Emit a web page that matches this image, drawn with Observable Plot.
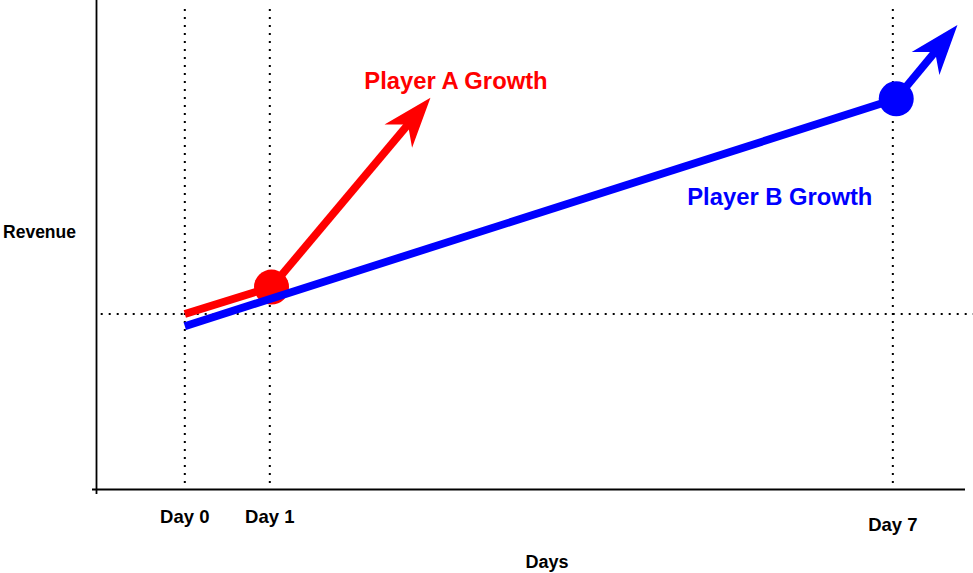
<!DOCTYPE html>
<html><head><meta charset="utf-8">
<script src="https://cdn.jsdelivr.net/npm/d3@7"></script>
<script src="https://cdn.jsdelivr.net/npm/@observablehq/plot@0.6"></script>
<style>body{margin:0;background:#fff;} svg{display:block}</style>
</head><body><div id="chart"></div>
<script>
// ---- data ----
const dayLabels = ["Day 0", "Day 1", "Day 7"];
const dayPositions = [0, 1, 8.33];
const baselineRevenue = 3.59;
const seriesNames = ["Player A Growth", "Player B Growth"];
const playerADays = [0, 1.02];
const playerARevenue = [3.59, 4.14];
const playerBDays = [0, 8.37];
const playerBRevenue = [3.34, 7.99];
const arrowTipDays = [2.89, 9.09];
const arrowTipRevenue = [8.01, 9.50];
const axisLabels = {x: "Days", y: "Revenue"};

// ---- layout ----
const W = 973, H = 573, mL = 96, mR = 0, mT = 0, mB = 84;
const xDomain = [-1.039, 9.279], yDomain = [0, 10];
const colors = ["#ff0000", "#0000ff"];
const xs = d3.scaleLinear(xDomain, [mL, W - mR]);
const ys = d3.scaleLinear(yDomain, [H - mB, mT]);

const seriesDays = [playerADays, playerBDays];
const seriesRevenue = [playerARevenue, playerBRevenue];
const labelPos = [{x: 3.19, y: 8.194}, {x: 7.0, y: 5.822}];

const arrowHead = {
  draw(ctx) {
    ctx.moveTo(0, 0);
    ctx.lineTo(18, 50);
    ctx.lineTo(0, 35);
    ctx.lineTo(-18, 50);
    ctx.closePath();
  }
};

const marks = [];
// dotted reference lines
marks.push(Plot.ruleX(dayPositions, {y1: ys.invert(9), y2: 0, stroke: "black", strokeWidth: 2, strokeDasharray: "2 6"}));
marks.push(Plot.ruleY([baselineRevenue], {x1: xs.invert(100.7), x2: xDomain[1], stroke: "black", strokeWidth: 2, strokeDasharray: "2 6"}));
// axes lines
marks.push(Plot.ruleY([0], {x1: xs.invert(92), x2: xs.invert(965), stroke: "black", strokeWidth: 1.8}));
marks.push(Plot.ruleX([xDomain[0]], {y1: ys.invert(494), y2: yDomain[1], stroke: "black", strokeWidth: 1.8}));

seriesNames.forEach((name, i) => {
  const days = seriesDays[i], rev = seriesRevenue[i];
  const n = days.length - 1;
  const growth = [{x1: days[n], y1: rev[n], x2: arrowTipDays[i], y2: arrowTipRevenue[i]}];
  const dx = xs(growth[0].x2) - xs(growth[0].x1);
  const dy = ys(growth[0].y2) - ys(growth[0].y1);
  const angle = Math.atan2(dx, -dy) * 180 / Math.PI;
  marks.push(Plot.line(days.map((d, j) => ({x: d, y: rev[j]})), {x: "x", y: "y", stroke: colors[i], strokeWidth: 7.8, strokeLinecap: "butt"}));
  marks.push(Plot.arrow(growth, {x1: "x1", y1: "y1", x2: "x2", y2: "y2", stroke: colors[i], strokeWidth: 7.8, headLength: 0, insetEnd: 30, strokeLinecap: "butt"}));
  marks.push(Plot.dot(growth, {x: "x2", y: "y2", symbol: arrowHead, r: 10, fill: colors[i], stroke: "none", rotate: angle}));
  marks.push(Plot.dot(growth, {x: "x1", y: "y1", r: 17.5, fill: colors[i], stroke: "none"}));
  marks.push(Plot.text([name], {x: labelPos[i].x, y: labelPos[i].y, fill: colors[i], fontSize: 23.8, fontWeight: "bold", lineAnchor: "bottom", textAnchor: "middle"}));
});

// tick labels
marks.push(Plot.text(dayLabels, {x: (d, i) => dayPositions[i], filter: (d, i) => i < 2, frameAnchor: "bottom", lineAnchor: "bottom", dy: 33.3, fontSize: 18.5, fontWeight: "bold", fill: "black"}));
marks.push(Plot.text(dayLabels, {x: (d, i) => dayPositions[i], filter: (d, i) => i >= 2, frameAnchor: "bottom", lineAnchor: "bottom", dy: 41, fontSize: 18.5, fontWeight: "bold", fill: "black"}));
// axis labels
marks.push(Plot.text([axisLabels.x], {frameAnchor: "bottom", dx: 12, dy: 78.3, lineAnchor: "bottom", fontSize: 18, fontWeight: "bold", fill: "black"}));
marks.push(Plot.text([axisLabels.y], {frameAnchor: "left", dx: -57, dy: -7.2, textAnchor: "middle", lineAnchor: "bottom", fontSize: 17.5, fontWeight: "bold", fill: "black"}));

const chart = Plot.plot({
  width: W, height: H,
  marginLeft: mL, marginRight: mR, marginTop: mT, marginBottom: mB,
  x: {domain: xDomain, axis: null},
  y: {domain: yDomain, axis: null},
  style: {fontFamily: "'Liberation Sans', Arial, Helvetica, sans-serif", background: "white", overflow: "visible"},
  marks
});
document.getElementById("chart").appendChild(chart);
</script>
</body></html>
